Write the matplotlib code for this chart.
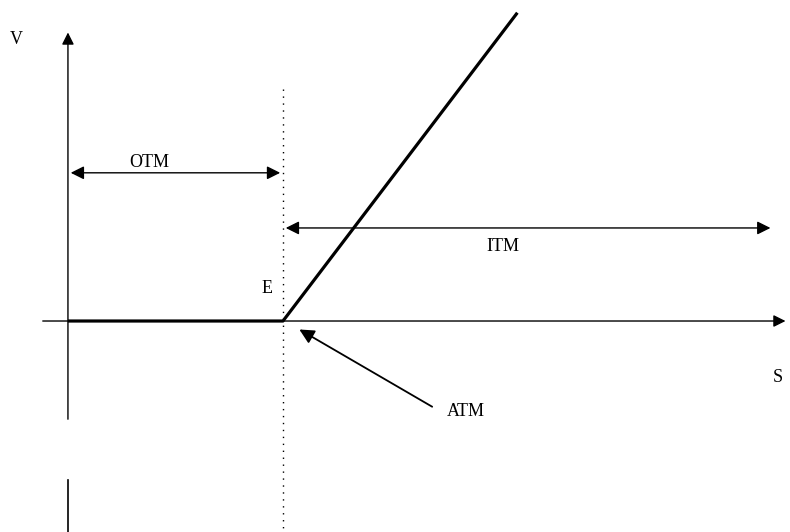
import matplotlib
matplotlib.use("Agg")
import matplotlib.pyplot as plt

# payoff of a call at expiry, strike E = 100
spot = [0, 100, 209]
value = [0, 0, 109]
strike = 100

# region labels: (text, S, V)
labels = [("V", -24, 99.5), ("S", 330, -20), ("E", 92.5, 11.5),
          ("OTM", 38, 56), ("ITM", 202.5, 26.5), ("ATM", 185, -32)]

plt.rcParams["font.family"] = ["Liberation Serif", "DejaVu Serif"]

fig = plt.figure(figsize=(7.9, 5.32), dpi=100)
ax = fig.add_axes([0, 0, 1, 1])
ax.set_xlim(-31.6, 335.8)
ax.set_ylim(-74.6, 113.5)
ax.axis("off")

arr = dict(arrowstyle="-|>", color="black", lw=1.0, mutation_scale=18)
both = dict(arrowstyle="<|-|>", color="black", lw=1.0, mutation_scale=20)

# S axis
ax.annotate("", xy=(335, 0), xytext=(-13, 0), arrowprops=arr)
# V axis, broken near the bottom
ax.annotate("", xy=(0, 103), xytext=(0, -35.7), arrowprops=arr)
ax.plot([0, 0], [-56.3, -74.6], color="black", lw=1.2)

# strike line
ax.plot([strike, strike], [82, -74.6], color="black", lw=1.0, ls=(0, (1, 4)))

# payoff
ax.plot(spot, value, color="black", lw=2.3, solid_capstyle="butt")

# OTM / ITM ranges
ax.annotate("", xy=(0, 52.4), xytext=(strike, 52.4), arrowprops=both)
ax.annotate("", xy=(strike, 32.9), xytext=(328, 32.9), arrowprops=both)

# ATM pointer
ax.annotate("", xy=(106.5, -2.5), xytext=(170.5, -30.8),
            arrowprops=dict(arrowstyle="-|>", color="black", lw=1.3, mutation_scale=22))

for txt, x, y in labels:
    ax.text(x, y, txt, fontsize=13, ha="center", va="center")

fig.savefig("out.png", dpi=100)
